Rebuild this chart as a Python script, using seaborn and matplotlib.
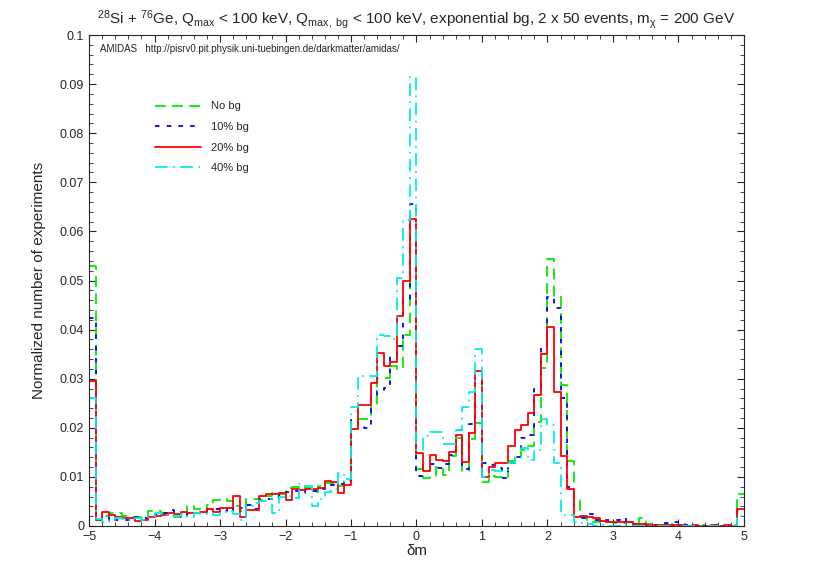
import numpy as np
import pandas as pd
import matplotlib
matplotlib.use("Agg")
import matplotlib.pyplot as plt
import seaborn as sns

sns.set_style("ticks")
plt.rcParams["font.family"] = ["Liberation Sans", "DejaVu Sans"]
plt.rcParams["mathtext.fontset"] = "custom"
plt.rcParams["mathtext.rm"] = "Liberation Sans"
plt.rcParams["mathtext.it"] = "Liberation Sans:italic"
plt.rcParams["mathtext.default"] = "regular"

# 100 bins of delta m between -5 and 5 (width 0.1)
centers = np.round(np.arange(-4.95, 5.0, 0.1), 2)

no_bg = [
    0.0530, 0.0012, 0.0020, 0.0027, 0.0027, 0.0020, 0.0019, 0.0019, 0.0016, 0.0031,
    0.0031, 0.0026, 0.0026, 0.0019, 0.0019, 0.0041, 0.0034, 0.0029, 0.0043, 0.0052,
    0.0054, 0.0050, 0.0040, 0.0030, 0.0055, 0.0056, 0.0052, 0.0062, 0.0068, 0.0066,
    0.0077, 0.0080, 0.0082, 0.0078, 0.0070, 0.0082, 0.0088, 0.0085, 0.0082, 0.0092,
    0.0216, 0.0217, 0.0217, 0.0246, 0.0301, 0.0301, 0.0326, 0.0320, 0.0389, 0.0577,
    0.0117, 0.0097, 0.0102, 0.0121, 0.0104, 0.0143, 0.0179, 0.0113, 0.0177, 0.0209,
    0.0090, 0.0102, 0.0099, 0.0097, 0.0133, 0.0141, 0.0155, 0.0163, 0.0212, 0.0321,
    0.0543, 0.0467, 0.0287, 0.0133, 0.0052, 0.0018, 0.0012, 0.0008, 0.0010, 0.0008,
    0.0006, 0.0006, 0.0008, 0.0004, 0.0016, 0.0004, 0.0002, 0.0000, 0.0006, 0.0002,
    0.0002, 0.0001, 0.0000, 0.0002, 0.0001, 0.0000, 0.0001, 0.0000, 0.0002, 0.0065,
]
bg_10 = [
    0.0423, 0.0019, 0.0011, 0.0018, 0.0012, 0.0013, 0.0013, 0.0019, 0.0017, 0.0019,
    0.0024, 0.0027, 0.0033, 0.0022, 0.0019, 0.0026, 0.0027, 0.0031, 0.0034, 0.0034,
    0.0031, 0.0038, 0.0030, 0.0036, 0.0042, 0.0035, 0.0055, 0.0055, 0.0060, 0.0064,
    0.0070, 0.0072, 0.0068, 0.0074, 0.0072, 0.0076, 0.0080, 0.0084, 0.0085, 0.0092,
    0.0215, 0.0202, 0.0200, 0.0262, 0.0275, 0.0282, 0.0347, 0.0366, 0.0460, 0.0656,
    0.0102, 0.0126, 0.0126, 0.0118, 0.0127, 0.0145, 0.0195, 0.0116, 0.0208, 0.0297,
    0.0128, 0.0124, 0.0118, 0.0098, 0.0128, 0.0140, 0.0180, 0.0185, 0.0280, 0.0362,
    0.0467, 0.0445, 0.0260, 0.0080, 0.0018, 0.0017, 0.0024, 0.0012, 0.0010, 0.0012,
    0.0013, 0.0016, 0.0008, 0.0005, 0.0004, 0.0003, 0.0003, 0.0002, 0.0006, 0.0008,
    0.0004, 0.0002, 0.0001, 0.0002, 0.0001, 0.0002, 0.0001, 0.0001, 0.0002, 0.0030,
]
bg_20 = [
    0.0296, 0.0012, 0.0029, 0.0022, 0.0019, 0.0016, 0.0016, 0.0011, 0.0012, 0.0019,
    0.0020, 0.0022, 0.0026, 0.0025, 0.0028, 0.0027, 0.0026, 0.0028, 0.0034, 0.0029,
    0.0036, 0.0036, 0.0062, 0.0018, 0.0033, 0.0033, 0.0061, 0.0065, 0.0065, 0.0068,
    0.0053, 0.0075, 0.0073, 0.0075, 0.0075, 0.0078, 0.0092, 0.0090, 0.0067, 0.0084,
    0.0197, 0.0246, 0.0246, 0.0292, 0.0353, 0.0325, 0.0335, 0.0428, 0.0498, 0.0625,
    0.0149, 0.0112, 0.0144, 0.0134, 0.0133, 0.0151, 0.0185, 0.0130, 0.0189, 0.0316,
    0.0100, 0.0121, 0.0129, 0.0129, 0.0163, 0.0196, 0.0206, 0.0230, 0.0267, 0.0350,
    0.0405, 0.0272, 0.0143, 0.0075, 0.0019, 0.0020, 0.0018, 0.0016, 0.0011, 0.0009,
    0.0009, 0.0009, 0.0008, 0.0005, 0.0005, 0.0003, 0.0003, 0.0002, 0.0003, 0.0002,
    0.0002, 0.0001, 0.0002, 0.0001, 0.0001, 0.0002, 0.0001, 0.0002, 0.0001, 0.0034,
]
bg_40 = [
    0.0260, 0.0014, 0.0009, 0.0012, 0.0016, 0.0014, 0.0012, 0.0016, 0.0012, 0.0020,
    0.0026, 0.0022, 0.0020, 0.0020, 0.0024, 0.0019, 0.0026, 0.0024, 0.0027, 0.0022,
    0.0028, 0.0030, 0.0025, 0.0012, 0.0040, 0.0046, 0.0050, 0.0055, 0.0026, 0.0060,
    0.0062, 0.0058, 0.0086, 0.0082, 0.0040, 0.0055, 0.0070, 0.0075, 0.0107, 0.0095,
    0.0243, 0.0306, 0.0306, 0.0306, 0.0389, 0.0386, 0.0380, 0.0505, 0.0623, 0.0914,
    0.0155, 0.0183, 0.0191, 0.0191, 0.0168, 0.0168, 0.0196, 0.0242, 0.0272, 0.0360,
    0.0100, 0.0114, 0.0112, 0.0111, 0.0128, 0.0138, 0.0158, 0.0134, 0.0155, 0.0217,
    0.0206, 0.0128, 0.0022, 0.0022, 0.0008, 0.0007, 0.0004, 0.0001, 0.0002, 0.0001,
    0.0001, 0.0002, 0.0001, 0.0001, 0.0000, 0.0001, 0.0000, 0.0001, 0.0000, 0.0001,
    0.0000, 0.0001, 0.0000, 0.0000, 0.0001, 0.0000, 0.0001, 0.0000, 0.0001, 0.0020,
]

labels = ["No bg", "10% bg", "20% bg", "40% bg"]
series = [no_bg, bg_10, bg_20, bg_40]
colors = ["#00ee00", "#0000ff", "#ff0000", "#00eeee"]
styles = [(0, (6, 3.5)), (0, (2.5, 4)), "-", (0, (7, 3, 1, 3))]

fig = plt.figure(figsize=(8.17, 5.72), dpi=100)
ax = fig.add_axes([89 / 817, 1 - 526 / 572, (744 - 89) / 817, (526 - 35) / 572])

handles = []
for lab, vals, col, ls in zip(labels, series, colors, styles):
    df = pd.DataFrame({"dm": centers, "w": vals})
    sns.histplot(data=df, x="dm", weights="w", bins=100, binrange=(-5, 5),
                 element="step", fill=False, color=col, linestyle=ls,
                 linewidth=1.3, ax=ax)
    handles.append(ax.lines[-1])

ax.set_xlim(-5, 5)
ax.set_ylim(0, 0.1)
ax.set_xticks(range(-5, 6))
yt = np.round(np.arange(0, 0.101, 0.01), 2)
ax.set_yticks(yt)
ax.set_yticklabels(["0"] + [f"{v:g}" for v in yt[1:]])
ax.xaxis.set_minor_locator(matplotlib.ticker.MultipleLocator(0.2))
ax.yaxis.set_minor_locator(matplotlib.ticker.MultipleLocator(0.002))
ax.tick_params(which="both", direction="in", top=True, right=True, labelsize=9)
ax.tick_params(which="major", length=5, width=0.8)
ax.tick_params(which="minor", length=3, width=0.6)
for sp in ax.spines.values():
    sp.set_linewidth(0.8)

ax.set_xlabel("δm", fontsize=11, labelpad=1)
ax.set_ylabel("Normalized number of experiments", fontsize=11, labelpad=10)
ax.set_title(r"$^{28}$Si + $^{76}$Ge, Q$_{max}$ < 100 keV, Q$_{max,\ bg}$ < 100 keV, "
             r"exponential bg, 2 x 50 events, m$_\chi$ = 200 GeV", fontsize=11, pad=8)
ax.text(0.017, 0.982, "AMIDAS   http://pisrv0.pit.physik.uni-tuebingen.de/darkmatter/amidas/",
        transform=ax.transAxes, fontsize=7, va="top", ha="left")

ax.legend(handles, labels, loc="upper left", bbox_to_anchor=(0.085, 0.885),
          frameon=False, fontsize=8, handlelength=4.2, handletextpad=0.9,
          labelspacing=0.95)

fig.savefig("out.png", dpi=100)
